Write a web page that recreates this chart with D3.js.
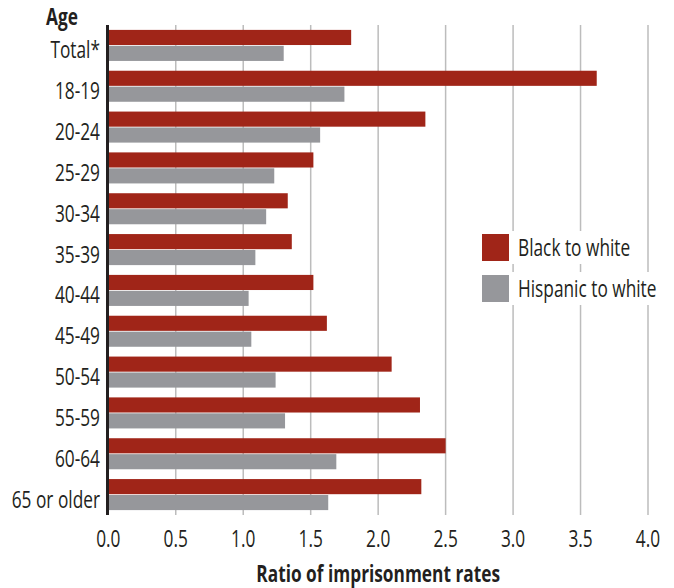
<!DOCTYPE html>
<html>
<head>
<meta charset="utf-8">
<script src="https://cdn.jsdelivr.net/npm/d3@7"></script>
<style>
  html, body { margin: 0; padding: 0; background: #fff; }
  svg text { font-family: "Open Sans", "Noto Sans", sans-serif; fill: #231f20; }
</style>
</head>
<body>
<svg id="chart" width="674" height="588"></svg>
<script>
// Age groups, top to bottom
const ageGroups = ["Total*", "18-19", "20-24", "25-29", "30-34", "35-39", "40-44", "45-49", "50-54", "55-59", "60-64", "65 or older"];
// Ratio of imprisonment rates by age group
const blackToWhite    = [1.80, 3.62, 2.35, 1.52, 1.33, 1.36, 1.52, 1.62, 2.10, 2.31, 2.50, 2.32];
const hispanicToWhite = [1.30, 1.75, 1.57, 1.23, 1.17, 1.09, 1.04, 1.06, 1.24, 1.31, 1.69, 1.63];
const seriesNames = ["Black to white", "Hispanic to white"];
const seriesColors = ["#a02518", "#96979b"];
const xTicks = [0, 0.5, 1.0, 1.5, 2.0, 2.5, 3.0, 3.5, 4.0];

const FONT_SIZE = 24;
const CONDENSE = 0.72;   // horizontal squeeze for a condensed look

const svg = d3.select("#chart");
const x = d3.scaleLinear().domain([0, 4]).range([108.3, 648]);
const y = d3.scaleBand().domain(ageGroups).range([25, 515]).paddingInner(0.24).paddingOuter(0.12);
const ySub = d3.scaleBand().domain(seriesNames).range([0, y.bandwidth()]).paddingInner(0.05);
const color = d3.scaleOrdinal().domain(seriesNames).range(seriesColors);

// place a condensed text label at (tx, ty)
function label(parent, tx, ty, str, anchor, bold) {
  return parent.append("text")
    .attr("transform", `translate(${tx},${ty}) scale(${CONDENSE},1)`)
    .attr("text-anchor", anchor || "start")
    .attr("font-size", FONT_SIZE)
    .attr("font-weight", bold ? "bold" : "normal")
    .text(str);
}

const rows = ageGroups.map((g, i) => ({ group: g, values: [
  { series: seriesNames[0], value: blackToWhite[i] },
  { series: seriesNames[1], value: hispanicToWhite[i] }
]}));

// vertical gridlines
svg.append("g")
  .selectAll("line")
  .data(xTicks.slice(1))
  .join("line")
  .attr("x1", d => x(d)).attr("x2", d => x(d))
  .attr("y1", 25).attr("y2", 515)
  .attr("stroke", "#bcbcbc").attr("stroke-width", 1.5);

// bars
svg.append("g")
  .selectAll("g")
  .data(rows)
  .join("g")
  .attr("transform", d => `translate(0,${y(d.group)})`)
  .selectAll("rect")
  .data(d => d.values)
  .join("rect")
  .attr("x", x(0))
  .attr("y", d => ySub(d.series))
  .attr("width", d => x(d.value) - x(0))
  .attr("height", ySub.bandwidth())
  .attr("fill", d => color(d.series));

// left axis line
svg.append("line")
  .attr("x1", x(0) - 0.8).attr("x2", x(0) - 0.8)
  .attr("y1", 25).attr("y2", 515)
  .attr("stroke", "#231f20").attr("stroke-width", 3);

// category labels
const catG = svg.append("g");
ageGroups.forEach(g => label(catG, 100, y(g) + y.bandwidth() / 2 + 13, g, "end"));

// "Age" header
label(svg, 46, 25, "Age", "start", true);

// x tick labels
const tickG = svg.append("g");
xTicks.forEach(t => label(tickG, x(t), 547, d3.format(".1f")(t), "middle"));

// x axis title
label(svg, x(2), 582, "Ratio of imprisonment rates", "middle", true);

// legend
const legend = svg.append("g").attr("transform", "translate(482,234)");
seriesNames.forEach((s, i) => {
  const item = legend.append("g").attr("transform", `translate(0,${i * 41})`);
  const bg = item.append("rect").attr("fill", "#fff");
  item.append("rect")
    .attr("width", 27).attr("height", 27)
    .attr("fill", color(s));
  const t = label(item, 36, 22, s, "start");
  const w = t.node().getComputedTextLength() * CONDENSE;
  bg.attr("x", -3).attr("y", -3).attr("width", 36 + w + 6).attr("height", 33);
});
</script>
</body>
</html>
